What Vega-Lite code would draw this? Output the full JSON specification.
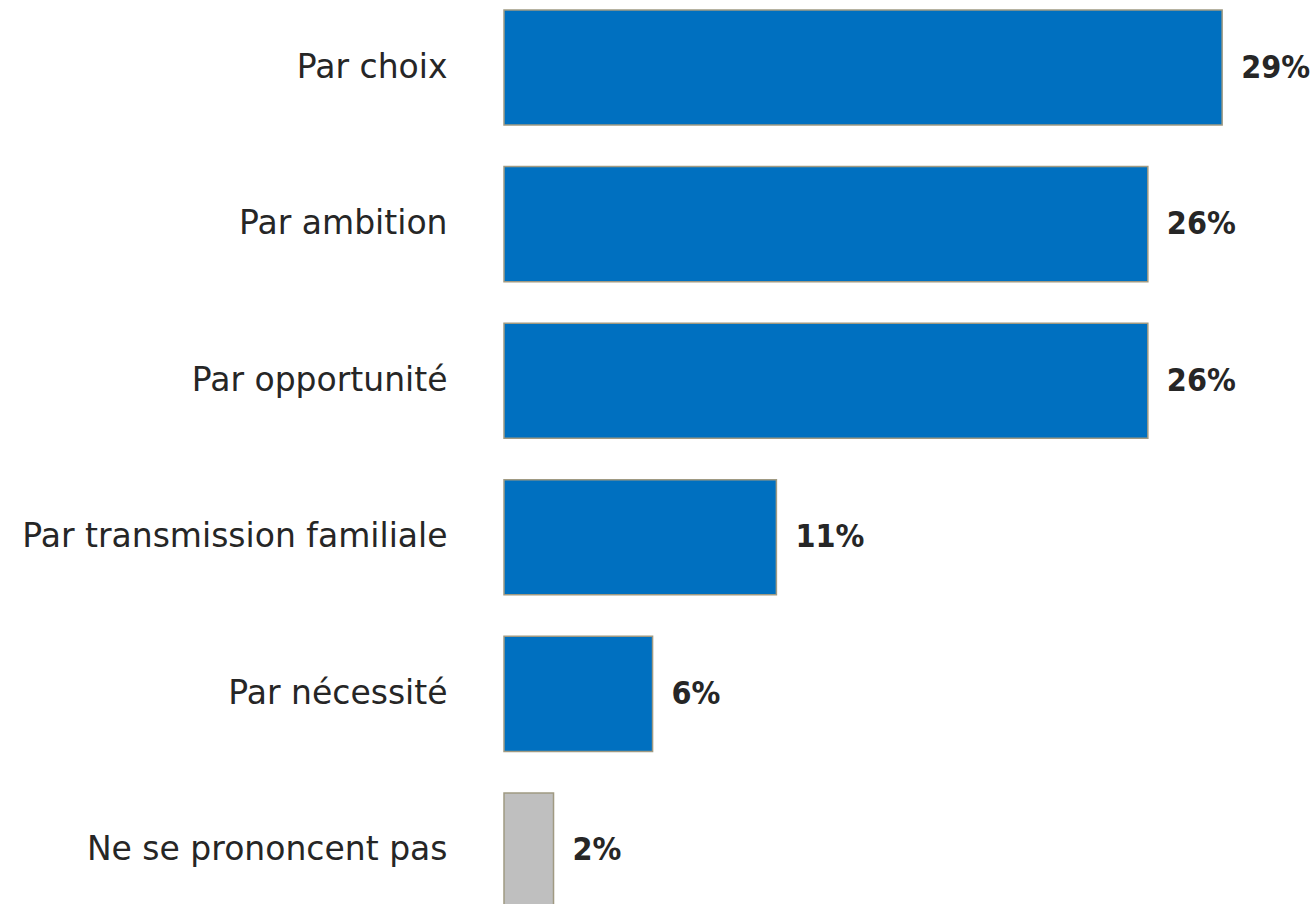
{
  "$schema": "https://vega.github.io/schema/vega-lite/v6.json",
  "width": 811,
  "height": 918,
  "autosize": {"type": "none"},
  "padding": {"left": 504, "top": 0, "right": 0, "bottom": 0},
  "background": "white",
  "config": {"view": {"stroke": null}, "font": "DejaVu Sans"},
  "data": {"values": [
    {"label": "Par choix", "value": 0.29, "type": "main"},
    {"label": "Par ambition", "value": 0.26, "type": "main"},
    {"label": "Par opportunité", "value": 0.26, "type": "main"},
    {"label": "Par transmission familiale", "value": 0.11, "type": "main"},
    {"label": "Par nécessité", "value": 0.06, "type": "main"},
    {"label": "Ne se prononcent pas", "value": 0.02, "type": "nsp"}
  ]},
  "encoding": {
    "y": {"field": "label", "type": "nominal", "sort": null,
      "scale": {"paddingInner": 0.265, "paddingOuter": 0.064},
      "axis": {"title": null, "domain": false, "ticks": false, "labelPadding": 57, "labelFontSize": 33, "labelColor": "#262626", "labelFont": "DejaVu Sans", "labelLimit": 600}},
    "x": {"field": "value", "type": "quantitative", "scale": {"domain": [0, 0.3275], "nice": false}, "axis": null}
  },
  "layer": [
    {"mark": {"type": "bar", "stroke": "#a09a82", "strokeWidth": 1.5},
     "encoding": {"color": {"field": "type", "type": "nominal", "scale": {"domain": ["main", "nsp"], "range": ["#0070c0", "#bfbfbf"]}, "legend": null}}},
    {"mark": {"type": "text", "align": "left", "baseline": "middle", "dx": 19, "fontSize": 32, "font": "DejaVu Sans Condensed", "fontWeight": "bold", "color": "#262626"},
     "encoding": {"text": {"field": "value", "type": "quantitative", "format": ".0%"}}}
  ]
}
